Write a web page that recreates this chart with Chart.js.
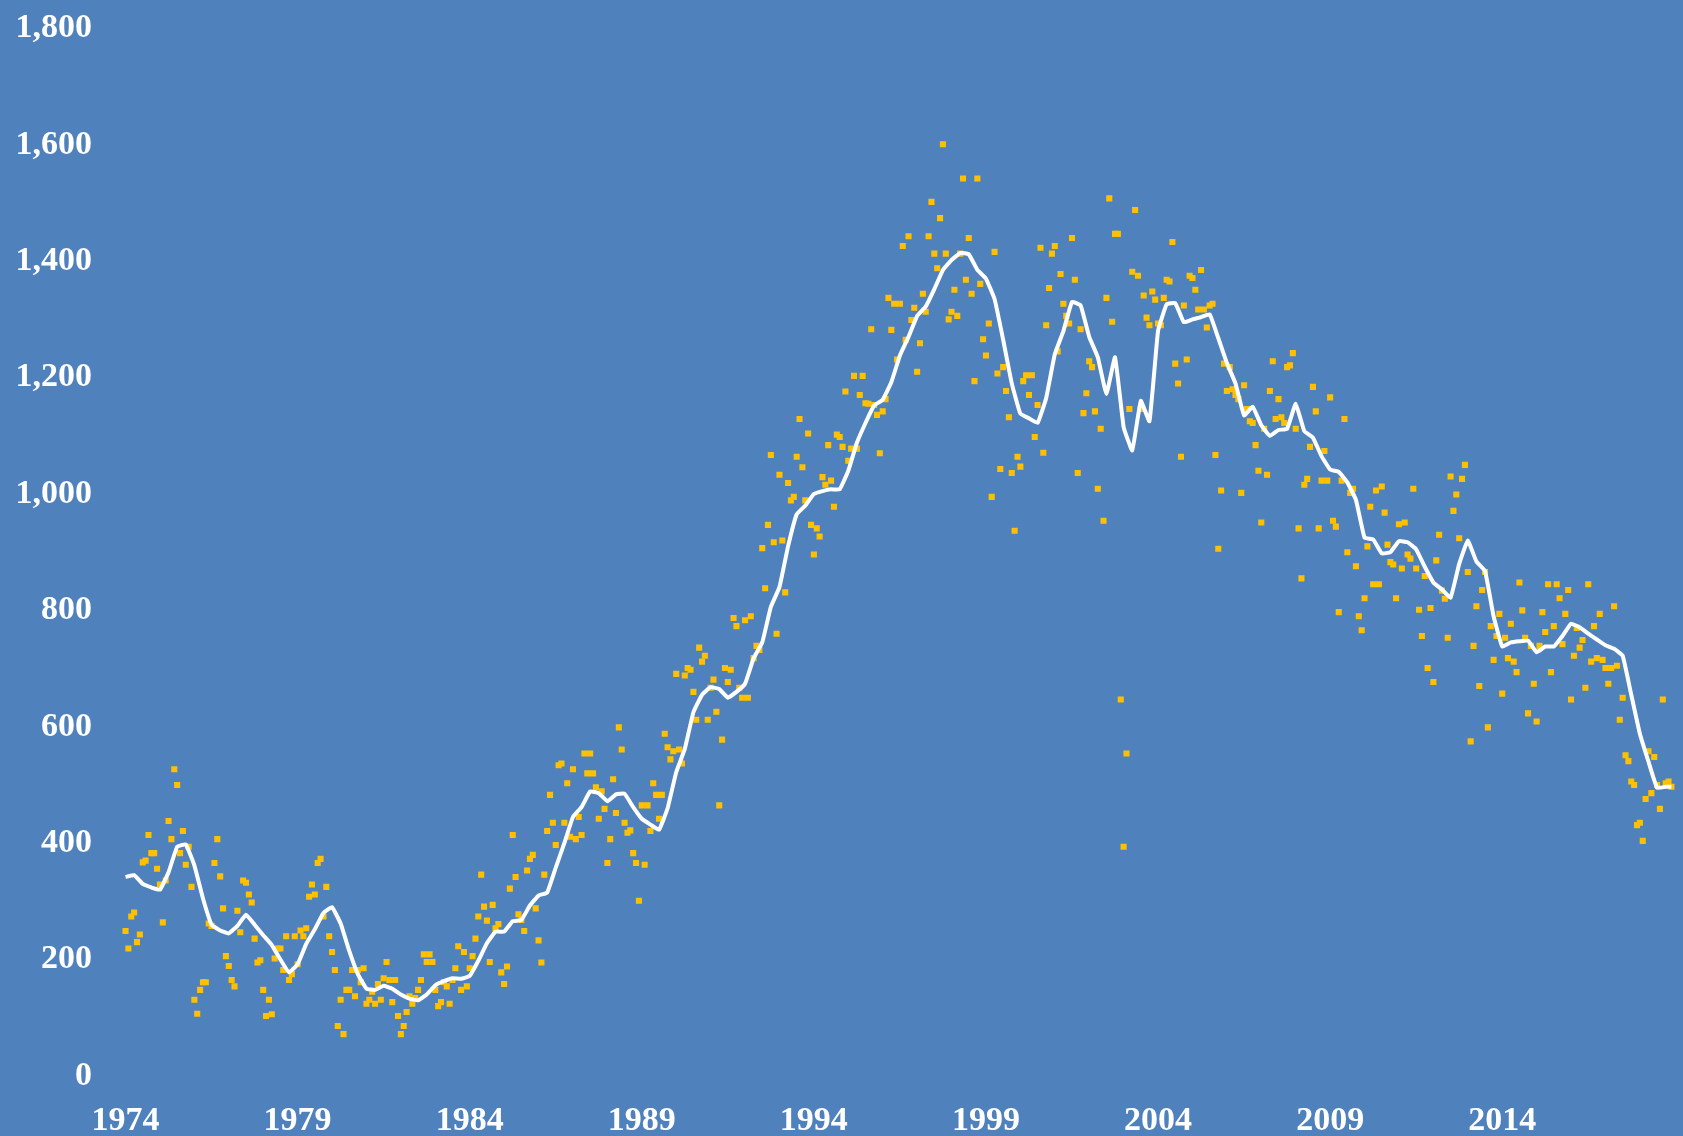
<!DOCTYPE html>
<html>
<head>
<meta charset="utf-8">
<script src="https://cdn.jsdelivr.net/npm/chart.js@4.4.1/dist/chart.umd.min.js"></script>
<style>
  html, body { margin: 0; padding: 0; background: #4F81BD; }
  #chart { display: block; }
</style>
</head>
<body>
<canvas id="chart" width="1683" height="1136"></canvas>
<script>
// monthly values, Jan 1974 .. Dec 2018 (one row per year)
var monthlyValues = [
  249,219,274,281,230,243,367,370,414,383,383,356,
  329,264,336,438,407,527,500,383,421,363,394,325,
  131,107,148,161,161,262,258,366,407,343,288,206,
  189,165,154,284,247,336,332,312,298,236,195,199,
  148,103,131,106,202,219,219,182,240,165,175,240,
  192,250,240,254,308,329,312,366,373,274,325,240,
  213,182,86,131,72,148,148,182,137,182,161,185,
  124,131,145,124,158,131,168,196,165,127,165,103,
  72,86,110,137,124,134,148,165,209,196,209,196,
  148,120,127,161,154,124,165,185,223,148,213,154,
  185,206,236,274,346,291,267,196,294,254,261,178,
  158,188,322,414,342,278,268,249,353,373,380,288,
  233,195,346,421,483,435,397,534,537,435,503,411,
  527,407,445,414,554,520,554,520,496,442,489,459,
  366,407,510,452,599,561,435,418,422,383,366,301,
  465,363,465,421,503,483,442,483,588,565,544,558,
  691,561,537,688,701,698,660,612,736,712,722,612,
  667,681,626,465,578,701,677,698,787,773,667,650,
  783,650,790,718,739,732,907,838,947,1067,917,760,
  1033,920,831,1019,989,995,1064,1129,1046,989,1104,947,
  896,941,927,1029,1016,1084,1023,978,1102,1098,1081,1176,
  1057,1078,1203,1078,1170,1203,1156,1155,1283,1153,1136,1070,
  1142,1163,1337,1282,1327,1231,1327,1426,1265,1443,1299,1320,
  1210,1259,1344,1313,1443,1502,1413,1388,1474,1601,1413,1300,
  1313,1351,1306,1413,1542,1368,1440,1344,1194,1542,1361,1266,
  1238,1293,995,1416,1207,1043,1218,1177,1132,1036,937,1064,
  1047,1194,1204,1170,1204,1098,1153,1423,1071,1290,1354,1413,
  1426,1245,1378,1327,1306,1293,1440,1368,1036,1283,1139,1173,
  1228,1218,1142,1009,1112,954,1337,1508,1296,1447,1447,647,
  394,554,1146,1382,1488,1375,1146,1341,1303,1290,1348,1334,
  1293,1290,1337,1368,1365,1433,1224,1190,1064,1324,1231,1375,
  1371,1351,1317,1385,1317,1286,1324,1327,1067,906,1006,1224,
  1177,1218,1180,1170,1163,1002,1187,1146,1125,1122,1084,1040,
  951,1112,1033,1177,1228,1129,1163,1132,1122,1218,1221,1242,
  1112,941,855,1016,1026,1081,1184,1142,941,1023,1074,1023,
  1166,954,944,797,1023,1129,900,1002,1009,876,790,766,
  821,910,978,845,1006,845,1013,968,913,883,879,821,
  948,872,951,896,889,1009,872,801,756,859,701,804,
  677,886,930,834,820,753,1030,971,999,924,1026,1050,
  866,575,739,807,670,835,866,599,773,715,756,794,
  657,753,718,777,712,694,848,800,753,623,739,674,
  609,739,797,763,845,694,773,845,821,742,794,835,
  647,722,770,736,749,667,845,712,773,718,794,715,
  701,674,701,807,705,612,650,551,541,506,500,431,
  435,404,476,558,486,548,500,459,647,503,506,497
];

// smoothed trend, one value per quarter from 1974 Q1, last one = Dec 2018
var trendValues = [
  342,345,330,324,  320,350,394,398,  362,305,260,250,  245,258,277,260,
  242,225,200,178,  192,227,252,280,  290,262,215,175,  150,148,155,150,
  140,133,130,140,  156,163,168,167,  172,198,228,248,  248,266,268,293,
  310,315,358,400,  445,462,489,486,  472,484,485,462,  442,432,423,460,
  522,562,625,655,  668,665,650,660,  674,718,745,806,  840,910,965,980,
  1000,1005,1008,1008,  1040,1088,1122,1152,  1162,1192,1238,1270,  1306,1322,1352,1385,
  1402,1414,1412,1385,  1370,1335,1265,1190,  1138,1130,1122,1165,  1240,1280,1330,1324,
  1270,1235,1172,1235,  1115,1075,1160,1125,  1280,1326,1328,1295,  1300,1304,1309,1268,
  1225,1190,1135,1150,  1118,1100,1110,1112,  1155,1108,1097,1065,  1042,1038,1020,990,
  925,922,898,900,  919,917,905,875,  848,836,822,880,  920,884,868,790,
  738,745,747,748,  728,738,738,756,  777,771,760,750,  740,734,722,655,
  588,540,495,497,  497
];

var yearTicks = [1974, 1979, 1984, 1989, 1994, 1999, 2004, 2009, 2014];
var firstYear = 1974;
var lastX = 2018 + 11 / 12;

var scatterPoints = monthlyValues.map(function (v, i) {
  return { x: firstYear + i / 12, y: v };
});
var trendPoints = trendValues.map(function (v, i) {
  return { x: Math.min(firstYear + i / 4, lastX), y: v };
});

var tickFont = { family: "'Liberation Serif', serif", size: 34, weight: 'bold' };

var ctx = document.getElementById('chart');
var chart = new Chart(ctx, {
  type: 'scatter',
  data: {
    datasets: [
      {
        type: 'line',
        data: trendPoints,
        borderColor: '#ffffff',
        borderWidth: 4,
        borderJoinStyle: 'round',
        pointRadius: 0,
        fill: false,
        tension: 0.1,
        order: 0
      },
      {
        data: scatterPoints,
        pointStyle: 'rect',
        pointRadius: 4.3,
        pointBorderWidth: 0,
        backgroundColor: '#FFC000',
        borderColor: '#FFC000',
        order: 1
      }
    ]
  },
  options: {
    responsive: false,
    animation: false,
    devicePixelRatio: 1,
    layout: { padding: { top: 23, right: 0, left: 0, bottom: 0 } },
    plugins: {
      legend: { display: false },
      tooltip: { enabled: false }
    },
    scales: {
      x: {
        type: 'linear',
        min: 1973.258,
        max: 2019.128,
        grid: { display: false, drawTicks: false },
        border: { display: false },
        afterBuildTicks: function (axis) {
          axis.ticks = yearTicks.map(function (y) { return { value: y }; });
        },
        afterFit: function (axis) { axis.height = 60; },
        ticks: {
          color: '#ffffff',
          font: tickFont,
          padding: 25,
          maxRotation: 0,
          autoSkip: false,
          callback: function (v) { return String(v); }
        }
      },
      y: {
        min: 0,
        max: 1800,
        grid: { display: false, drawTicks: false },
        border: { display: false },
        afterFit: function (axis) { axis.width = 100; },
        ticks: {
          stepSize: 200,
          color: '#ffffff',
          font: tickFont,
          padding: 8,
          callback: function (v) { return v.toLocaleString('en-US'); }
        }
      }
    }
  }
});
</script>
</body>
</html>
